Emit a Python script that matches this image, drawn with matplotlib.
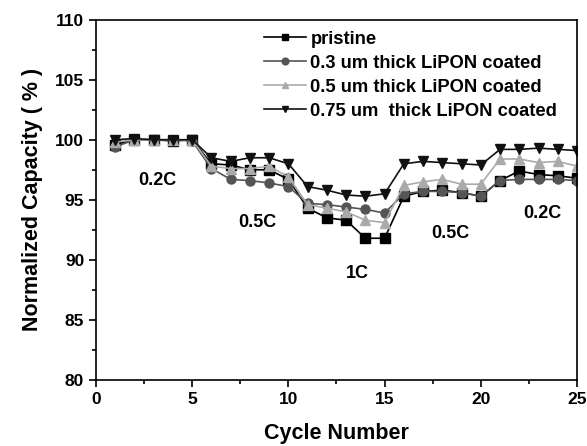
import numpy as np
import matplotlib
matplotlib.use("Agg")
import matplotlib.pyplot as plt
from matplotlib.ticker import MultipleLocator

cycles = np.arange(1, 26)

pristine = [99.6, 100.0, 100.0, 99.9, 100.0,
            98.0, 97.9, 97.5, 97.5, 96.7,
            94.3, 93.5, 93.3, 91.8, 91.8,
            95.3, 95.7, 95.8, 95.6, 95.3,
            96.6, 97.4, 97.1, 97.0, 96.8]
coat_03 = [99.4, 100.0, 100.0, 100.0, 99.9,
           97.6, 96.7, 96.6, 96.4, 96.1,
           94.7, 94.6, 94.4, 94.2, 93.9,
           95.5, 95.7, 95.7, 95.6, 95.3,
           96.6, 96.7, 96.7, 96.7, 96.6]
coat_05 = [99.8, 100.0, 100.0, 100.0, 100.0,
           97.8, 97.6, 97.6, 97.8, 96.9,
           94.6, 94.3, 94.0, 93.3, 93.1,
           96.2, 96.5, 96.7, 96.3, 96.3,
           98.4, 98.4, 98.1, 98.2, 97.8]
coat_075 = [100.0, 100.1, 100.0, 100.0, 100.0,
            98.5, 98.2, 98.5, 98.5, 98.0,
            96.1, 95.8, 95.4, 95.3, 95.5,
            98.0, 98.2, 98.1, 98.0, 97.9,
            99.2, 99.2, 99.3, 99.2, 99.1]

labels = ["pristine", "0.3 um thick LiPON coated",
          "0.5 um thick LiPON coated", "0.75 um  thick LiPON coated"]

rate_text = ["0.2C", "0.5C", "1C", "0.5C", "0.2C"]
rate_x = [3.2, 8.4, 13.6, 18.4, 23.2]
rate_y = [96.6, 93.1, 88.9, 92.2, 93.9]

plt.rcParams['font.family'] = ['Liberation Sans', 'DejaVu Sans']
plt.rcParams['font.weight'] = 'bold'

fig = plt.figure(figsize=(5.87, 4.46), dpi=100)
ax = fig.add_axes([0.1635, 0.148, 0.8195, 0.808])

styles = [
    dict(color='black', marker='s', mfc='black', mec='black'),
    dict(color='#555555', marker='o', mfc='#555555', mec='#555555'),
    dict(color='#aaaaaa', marker='^', mfc='#aaaaaa', mec='#aaaaaa'),
    dict(color='#111111', marker='v', mfc='#111111', mec='#111111'),
]
series = [pristine, coat_03, coat_05, coat_075]
for vals, lab, st in zip(series, labels, styles):
    ax.plot(cycles, vals, linewidth=1.2, markersize=6.5, label=lab, **st)

for t, x, y in zip(rate_text, rate_x, rate_y):
    ax.text(x, y, t, ha='center', va='center', fontsize=13, fontweight='bold')

ax.set_xlim(0, 25)
ax.set_ylim(80, 110)
ax.xaxis.set_major_locator(MultipleLocator(5))
ax.xaxis.set_minor_locator(MultipleLocator(2.5))
ax.yaxis.set_major_locator(MultipleLocator(5))
ax.yaxis.set_minor_locator(MultipleLocator(2.5))
ax.tick_params(which='both', direction='out', top=False, right=False, width=1.2)
ax.tick_params(which='major', length=5, labelsize=12.5)
ax.tick_params(which='minor', length=3)
for lab in ax.get_xticklabels() + ax.get_yticklabels():
    lab.set_fontweight('bold')
for sp in ax.spines.values():
    sp.set_linewidth(1.2)

ax.set_xlabel("Cycle Number", fontsize=15.5, fontweight='bold', labelpad=12)
ax.set_ylabel("Normalized Capacity ( % )", fontsize=15.5, fontweight='bold', labelpad=9)

leg = ax.legend(loc='upper left', bbox_to_anchor=(0.322, 1.005), frameon=False,
                fontsize=13.2, handlelength=2.3, handletextpad=0.25,
                labelspacing=0.38, markerscale=0.75, borderaxespad=0.3)

fig.savefig("out.png", dpi=100)
